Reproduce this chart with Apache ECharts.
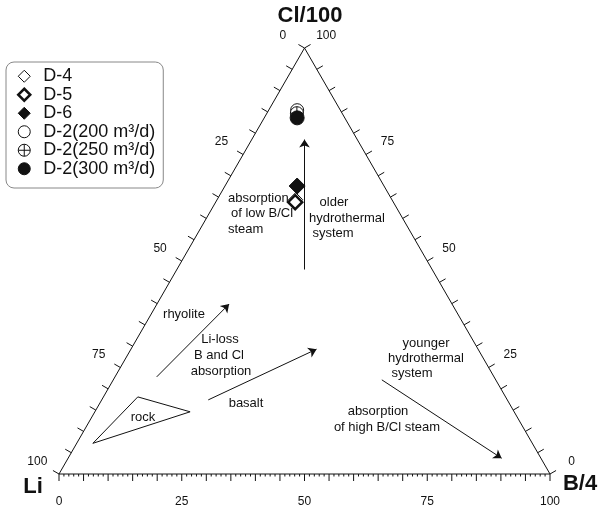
<!DOCTYPE html>
<html><head><meta charset="utf-8">
<script src="https://cdn.jsdelivr.net/npm/echarts@6/dist/echarts.min.js"></script>
<style>html,body{margin:0;padding:0;background:#fff}#c{width:598px;height:508px}</style>
</head><body><div id="c"></div>
<script>
// Ternary compositions [Li, B/4, Cl/100] in percent
const seriesNames = ['D-4', 'D-5', 'D-6', 'D-2(200 m³/d)', 'D-2(250 m³/d)', 'D-2(300 m³/d)'];
const D4 = [[19.6, 16.0, 64.4]];
const D5 = [[20.0, 16.2, 63.8]];
const D6 = [[17.7, 14.7, 67.6]];
const D2_200 = [[8.8, 5.8, 85.4]];
const D2_250 = [[9.2, 6.1, 84.7]];
const D2_300 = [[9.7, 6.7, 83.6]];
const vertices = [[100, 0, 0], [0, 100, 0], [0, 0, 100], [100, 0, 0]];
const tickValues = [0, 5, 10, 15, 20, 25, 30, 35, 40, 45, 50, 55, 60, 65, 70, 75, 80, 85, 90, 95, 100];
const tickLabels = [0, 25, 50, 75, 100];
const rockField = [[74.9, 7.0, 18.1], [66.0, 19.4, 14.6], [89.5, 3.3, 7.2], [74.9, 7.0, 18.1]];
const arrowOlder = [[26, 26, 48], [10.75, 10.75, 78.5]];
const arrowRhyolite = [[68.7, 8.5, 22.8], [45.4, 14.7, 39.9]];
const arrowBasalt = [[60.9, 21.7, 17.4], [32.9, 37.8, 29.3]];
const arrowHighBCl = [[23.2, 54.7, 22.1], [8.0, 88.3, 3.7]];

const FONT = '"Liberation Sans", Arial, sans-serif';
const INK = '#111';
const S3 = Math.sqrt(3) / 2;
function toXY(c) { const s = c[0] + c[1] + c[2]; return [(c[1] + c[2] / 2) / s * 100, c[2] / s * 100 * S3]; }
function edgeComp(edge, v) {
  if (edge === 0) return [100 - v, v, 0];      // bottom: B/4
  if (edge === 1) return [v, 0, 100 - v];      // left: Li
  return [0, 100 - v, v];                      // right: Cl/100
}
const normals = [[0, 1], [-0.866, -0.5], [0.866, -0.5]];

const tickData = [];
for (let e = 0; e < 3; e++) {
  tickValues.forEach(v => tickData.push([e, v, tickLabels.indexOf(v) >= 0 ? 2 : 1]));
}
for (let v = 1; v < 100; v++) { if (v % 5) tickData.push([0, v, 0]); }

const crossCircle = 'path://M12,2A10,10 0 1,1 12,22A10,10 0 1,1 12,2Z M2,12L22,12 M12,2L12,22';

const styles = [
  { symbol: 'diamond', size: 14, color: '#fff', bw: 1, legendSize: 12 },
  { symbol: 'diamond', size: 14, color: '#fff', bw: 2.5, legendSize: 11 },
  { symbol: 'diamond', size: 16, color: INK, bw: 1, legendSize: 12 },
  { symbol: 'circle', size: 13, color: '#fff', bw: 1, legendSize: 12 },
  { symbol: crossCircle, size: 13, color: '#fff', bw: 1, legendSize: 12 },
  { symbol: 'circle', size: 14, color: INK, bw: 1, legendSize: 13 }
];
const pointData = [D4, D5, D6, D2_200, D2_250, D2_300];

function txt(text, x, y, opt) {
  return { type: 'text', x, y, style: Object.assign({ text, font: '13px ' + FONT, fill: INK, align: 'center', verticalAlign: 'middle' }, (opt || {})) };
}

const option = {
  animation: false,
  backgroundColor: '#fff',
  grid: { left: 59, top: 48, width: 491, height: 426 },
  xAxis: { type: 'value', min: 0, max: 100, show: false },
  yAxis: { type: 'value', min: 0, max: 100 * S3, show: false },
  legend: {
    orient: 'vertical', left: 6, top: 62,
    data: seriesNames.map((n, i) => ({ name: n, icon: styles[i].symbol,
      itemStyle: { color: styles[i].color, borderColor: INK, borderWidth: styles[i].bw } })),
    padding: [5, 8, 10, 11], itemWidth: 12, itemHeight: 12, itemGap: 0,
    borderColor: '#888', borderWidth: 1, borderRadius: 8,
    textStyle: { fontSize: 18, fontFamily: FONT, color: INK, lineHeight: 18.5, padding: [0, 0, 0, 8] },
    selectedMode: false
  },
  graphic: [
    txt('Cl/100', 310, 16, { font: 'bold 22px ' + FONT }),
    txt('Li', 33, 487, { font: 'bold 22px ' + FONT }),
    txt('B/4', 580, 484, { font: 'bold 22px ' + FONT }),
    txt('rhyolite', 184, 314),
    txt('Li-loss', 220, 339),
    txt('B and Cl', 219, 355),
    txt('absorption', 221, 371),
    txt('basalt', 246, 403),
    txt('rock', 143, 417),
    txt('absorption', 228, 198, { align: 'left' }),
    txt('of low B/Cl', 231, 213, { align: 'left' }),
    txt('steam', 228, 229, { align: 'left' }),
    txt('older', 334, 202),
    txt('hydrothermal', 347, 218),
    txt('system', 333, 233),
    txt('younger', 426, 343),
    txt('hydrothermal', 426, 358),
    txt('system', 412, 373),
    txt('absorption', 378, 411),
    txt('of high B/Cl steam', 387, 427)
  ],
  series: [
    { type: 'line', data: vertices.map(toXY), symbol: 'none', clip: false, silent: true,
      lineStyle: { color: INK, width: 1 }, z: 1 },
    { type: 'line', data: rockField.map(toXY), symbol: 'none', clip: false, silent: true,
      lineStyle: { color: INK, width: 1 }, z: 1 },
    { type: 'lines', coordinateSystem: 'cartesian2d', silent: true, z: 1,
      symbol: ['none', 'arrow'], symbolSize: 8,
      lineStyle: { color: INK, width: 1, opacity: 1 },
      data: [arrowOlder, arrowRhyolite, arrowBasalt, arrowHighBCl].map(a => ({ coords: a.map(toXY) })) },
    { type: 'custom', clip: false, silent: true, z: 1,
      data: tickData,
      renderItem: function (params, api) {
        const edge = api.value(0), v = api.value(1), kind = api.value(2);
        const p = api.coord(toXY(edgeComp(edge, v)));
        const n = normals[edge];
        const len = kind === 0 ? 2.5 : 7;
        const children = [{ type: 'line', shape: { x1: p[0], y1: p[1], x2: p[0] + n[0] * len, y2: p[1] + n[1] * len },
          style: { stroke: INK, lineWidth: 1 } }];
        if (kind === 2) {
          const d = edge === 0 ? 28 : 25;
          children.push({ type: 'text', x: p[0] + n[0] * d, y: p[1] + n[1] * d,
            style: { text: String(v), font: '12px ' + FONT, fill: INK, align: 'center', verticalAlign: 'middle' } });
        }
        return { type: 'group', children };
      } }
  ].concat(pointData.map((d, i) => ({
    name: seriesNames[i], type: 'scatter', data: d.map(toXY), symbol: styles[i].symbol,
    symbolSize: styles[i].size, z: 3 + i, emphasis: { disabled: true },
    itemStyle: { color: styles[i].color, borderColor: INK, borderWidth: styles[i].bw, opacity: 1 }
  })))
};
const chart = echarts.init(document.getElementById('c'));
chart.setOption(option);
</script></body></html>
